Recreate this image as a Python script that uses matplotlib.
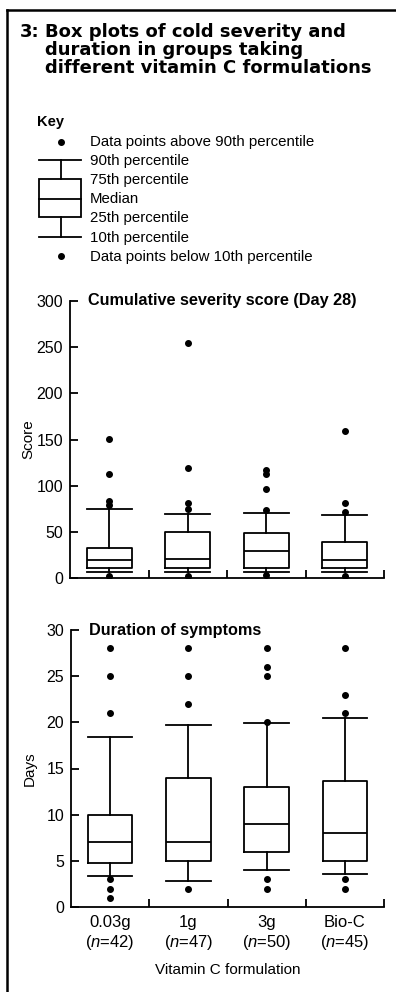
import matplotlib
matplotlib.use('Agg')
import matplotlib.pyplot as plt
from matplotlib.lines import Line2D
from matplotlib.patches import Rectangle

plt.rcParams['font.family'] = ['Liberation Sans', 'DejaVu Sans']
plt.rcParams['mathtext.fontset'] = 'custom'
plt.rcParams['mathtext.it'] = 'Liberation Sans:italic'
plt.rcParams['mathtext.rm'] = 'Liberation Sans'

# --- data ---
formulations = ['0.03g', '1g', '3g', 'Bio-C']
group_n = [42, 47, 50, 45]

# cumulative severity score (day 28)
sev_p10 = [7, 7, 7, 7]
sev_q1 = [11, 10.5, 11, 10.5]
sev_med = [20, 21, 29.5, 19]
sev_q3 = [32.5, 50, 49, 39]
sev_p90 = [75, 69.5, 70.5, 68.5]
sev_above = [[79, 83, 113, 151], [75, 81, 119, 255], [74, 96, 113, 117], [71, 81, 159]]
sev_below = [[2], [2], [3], [2]]

# duration of symptoms (days)
dur_p10 = [3.35, 2.85, 4.0, 3.6]
dur_q1 = [4.8, 5.0, 6.0, 5.0]
dur_med = [7, 7, 9, 8]
dur_q3 = [10, 14, 13, 13.6]
dur_p90 = [18.4, 19.7, 19.9, 20.5]
dur_above = [[21, 25, 28], [22, 25, 28], [20, 25, 26, 28], [21, 23, 28]]
dur_below = [[1, 2, 3], [2], [2, 3], [2, 3]]

W, H = 396, 992
fig = plt.figure(figsize=(W / 100, H / 100), dpi=100)
LW = 1.3
BOXW = 0.57
MS = 4


def fx(px):
    return px / W


def fy(py):
    return 1 - py / H


def stats(p10, q1, med, q3, p90, above, below):
    out = []
    for i in range(len(med)):
        out.append(dict(whislo=p10[i], q1=q1[i], med=med[i], q3=q3[i],
                        whishi=p90[i], fliers=below[i] + above[i]))
    return out


def panel(rect, st, ymax, yticks, title, ylabel, show_x):
    ax = fig.add_axes(rect)
    props = dict(color='black', linewidth=LW)
    ax.bxp(st, positions=range(len(st)), widths=BOXW, capwidths=BOXW,
           showfliers=True, boxprops=props, whiskerprops=props, capprops=props,
           medianprops=props,
           flierprops=dict(marker='o', markerfacecolor='black',
                           markeredgecolor='black', markersize=MS))
    ax.set_xlim(-0.5, 3.5)
    ax.set_ylim(0, ymax)
    ax.set_yticks(yticks)
    ax.set_xticks(range(4))
    ax.set_xticks([0.5, 1.5, 2.5, 3.5], minor=True)
    ax.tick_params(axis='x', which='major', length=0, pad=6, labelsize=12)
    ax.tick_params(axis='x', which='minor', direction='in', length=6, width=LW)
    ax.tick_params(axis='y', direction='in', length=6, width=LW, labelsize=11.5, pad=5)
    for s in ['top', 'right']:
        ax.spines[s].set_visible(False)
    for s in ['left', 'bottom']:
        ax.spines[s].set_linewidth(LW)
    if show_x:
        ax.set_xticklabels([f + '\n' + r'($\it{n}$=' + str(n) + ')'
                            for f, n in zip(formulations, group_n)])
        ax.set_xlabel('Vitamin C formulation', fontsize=11, labelpad=8)
    else:
        ax.set_xticklabels([])
    ax.set_ylabel(ylabel, fontsize=11)
    ax.yaxis.set_label_coords(-0.11, 0.5)
    ax.text(0.057, 1.0, title, transform=ax.transAxes, fontsize=11.7,
            fontweight='bold', va='center', ha='left')
    return ax


panel([fx(70), fy(578), fx(314), 277 / H],
      stats(sev_p10, sev_q1, sev_med, sev_q3, sev_p90, sev_above, sev_below),
      300, [0, 50, 100, 150, 200, 250, 300],
      'Cumulative severity score (Day 28)', 'Score', False)
panel([fx(71), fy(907), fx(313), 277 / H],
      stats(dur_p10, dur_q1, dur_med, dur_q3, dur_p90, dur_above, dur_below),
      30, [0, 5, 10, 15, 20, 25, 30],
      'Duration of symptoms', 'Days', True)

# frame lines (left and top)
fig.add_artist(Line2D([fx(7), fx(7)], [fy(10), 0], color='black', lw=1.8))
fig.add_artist(Line2D([fx(7), 1], [fy(10), fy(10)], color='black', lw=1.8))

# figure title
tfont = dict(family=['DejaVu Sans'], fontweight='bold', fontsize=13)
fig.text(fx(20), fy(32), '3:', va='center', ha='left', **tfont)
fig.text(fx(45), fy(32), 'Box plots of cold severity and', va='center', ha='left', **tfont)
fig.text(fx(45), fy(50), 'duration in groups taking', va='center', ha='left', **tfont)
fig.text(fx(45), fy(68), 'different vitamin C formulations', va='center', ha='left', **tfont)

# key
fig.text(fx(37), fy(122), 'Key', fontsize=10.5, fontweight='bold', va='center')
kx0, kx1, kxc = 39, 81, 61
fig.add_artist(Line2D([fx(kxc)], [fy(142)], marker='o', color='black', markersize=MS))
fig.add_artist(Line2D([fx(kx0), fx(kx1)], [fy(160), fy(160)], color='black', lw=LW))
fig.add_artist(Line2D([fx(kxc), fx(kxc)], [fy(160), fy(179)], color='black', lw=LW))
fig.add_artist(Rectangle((fx(kx0), fy(217)), fx(kx1 - kx0), (217 - 179) / H,
                         fill=False, edgecolor='black', lw=LW))
fig.add_artist(Line2D([fx(kx0), fx(kx1)], [fy(199), fy(199)], color='black', lw=LW))
fig.add_artist(Line2D([fx(kxc), fx(kxc)], [fy(217), fy(237)], color='black', lw=LW))
fig.add_artist(Line2D([fx(kx0), fx(kx1)], [fy(237), fy(237)], color='black', lw=LW))
fig.add_artist(Line2D([fx(kxc)], [fy(256)], marker='o', color='black', markersize=MS))
key_labels = ['Data points above 90th percentile', '90th percentile', '75th percentile',
              'Median', '25th percentile', '10th percentile',
              'Data points below 10th percentile']
key_y = [142, 161, 180, 199, 218, 238, 257]
for lab, y in zip(key_labels, key_y):
    fig.text(fx(90), fy(y), lab, fontsize=10.8, va='center', ha='left')

fig.savefig('out.png', dpi=100)
